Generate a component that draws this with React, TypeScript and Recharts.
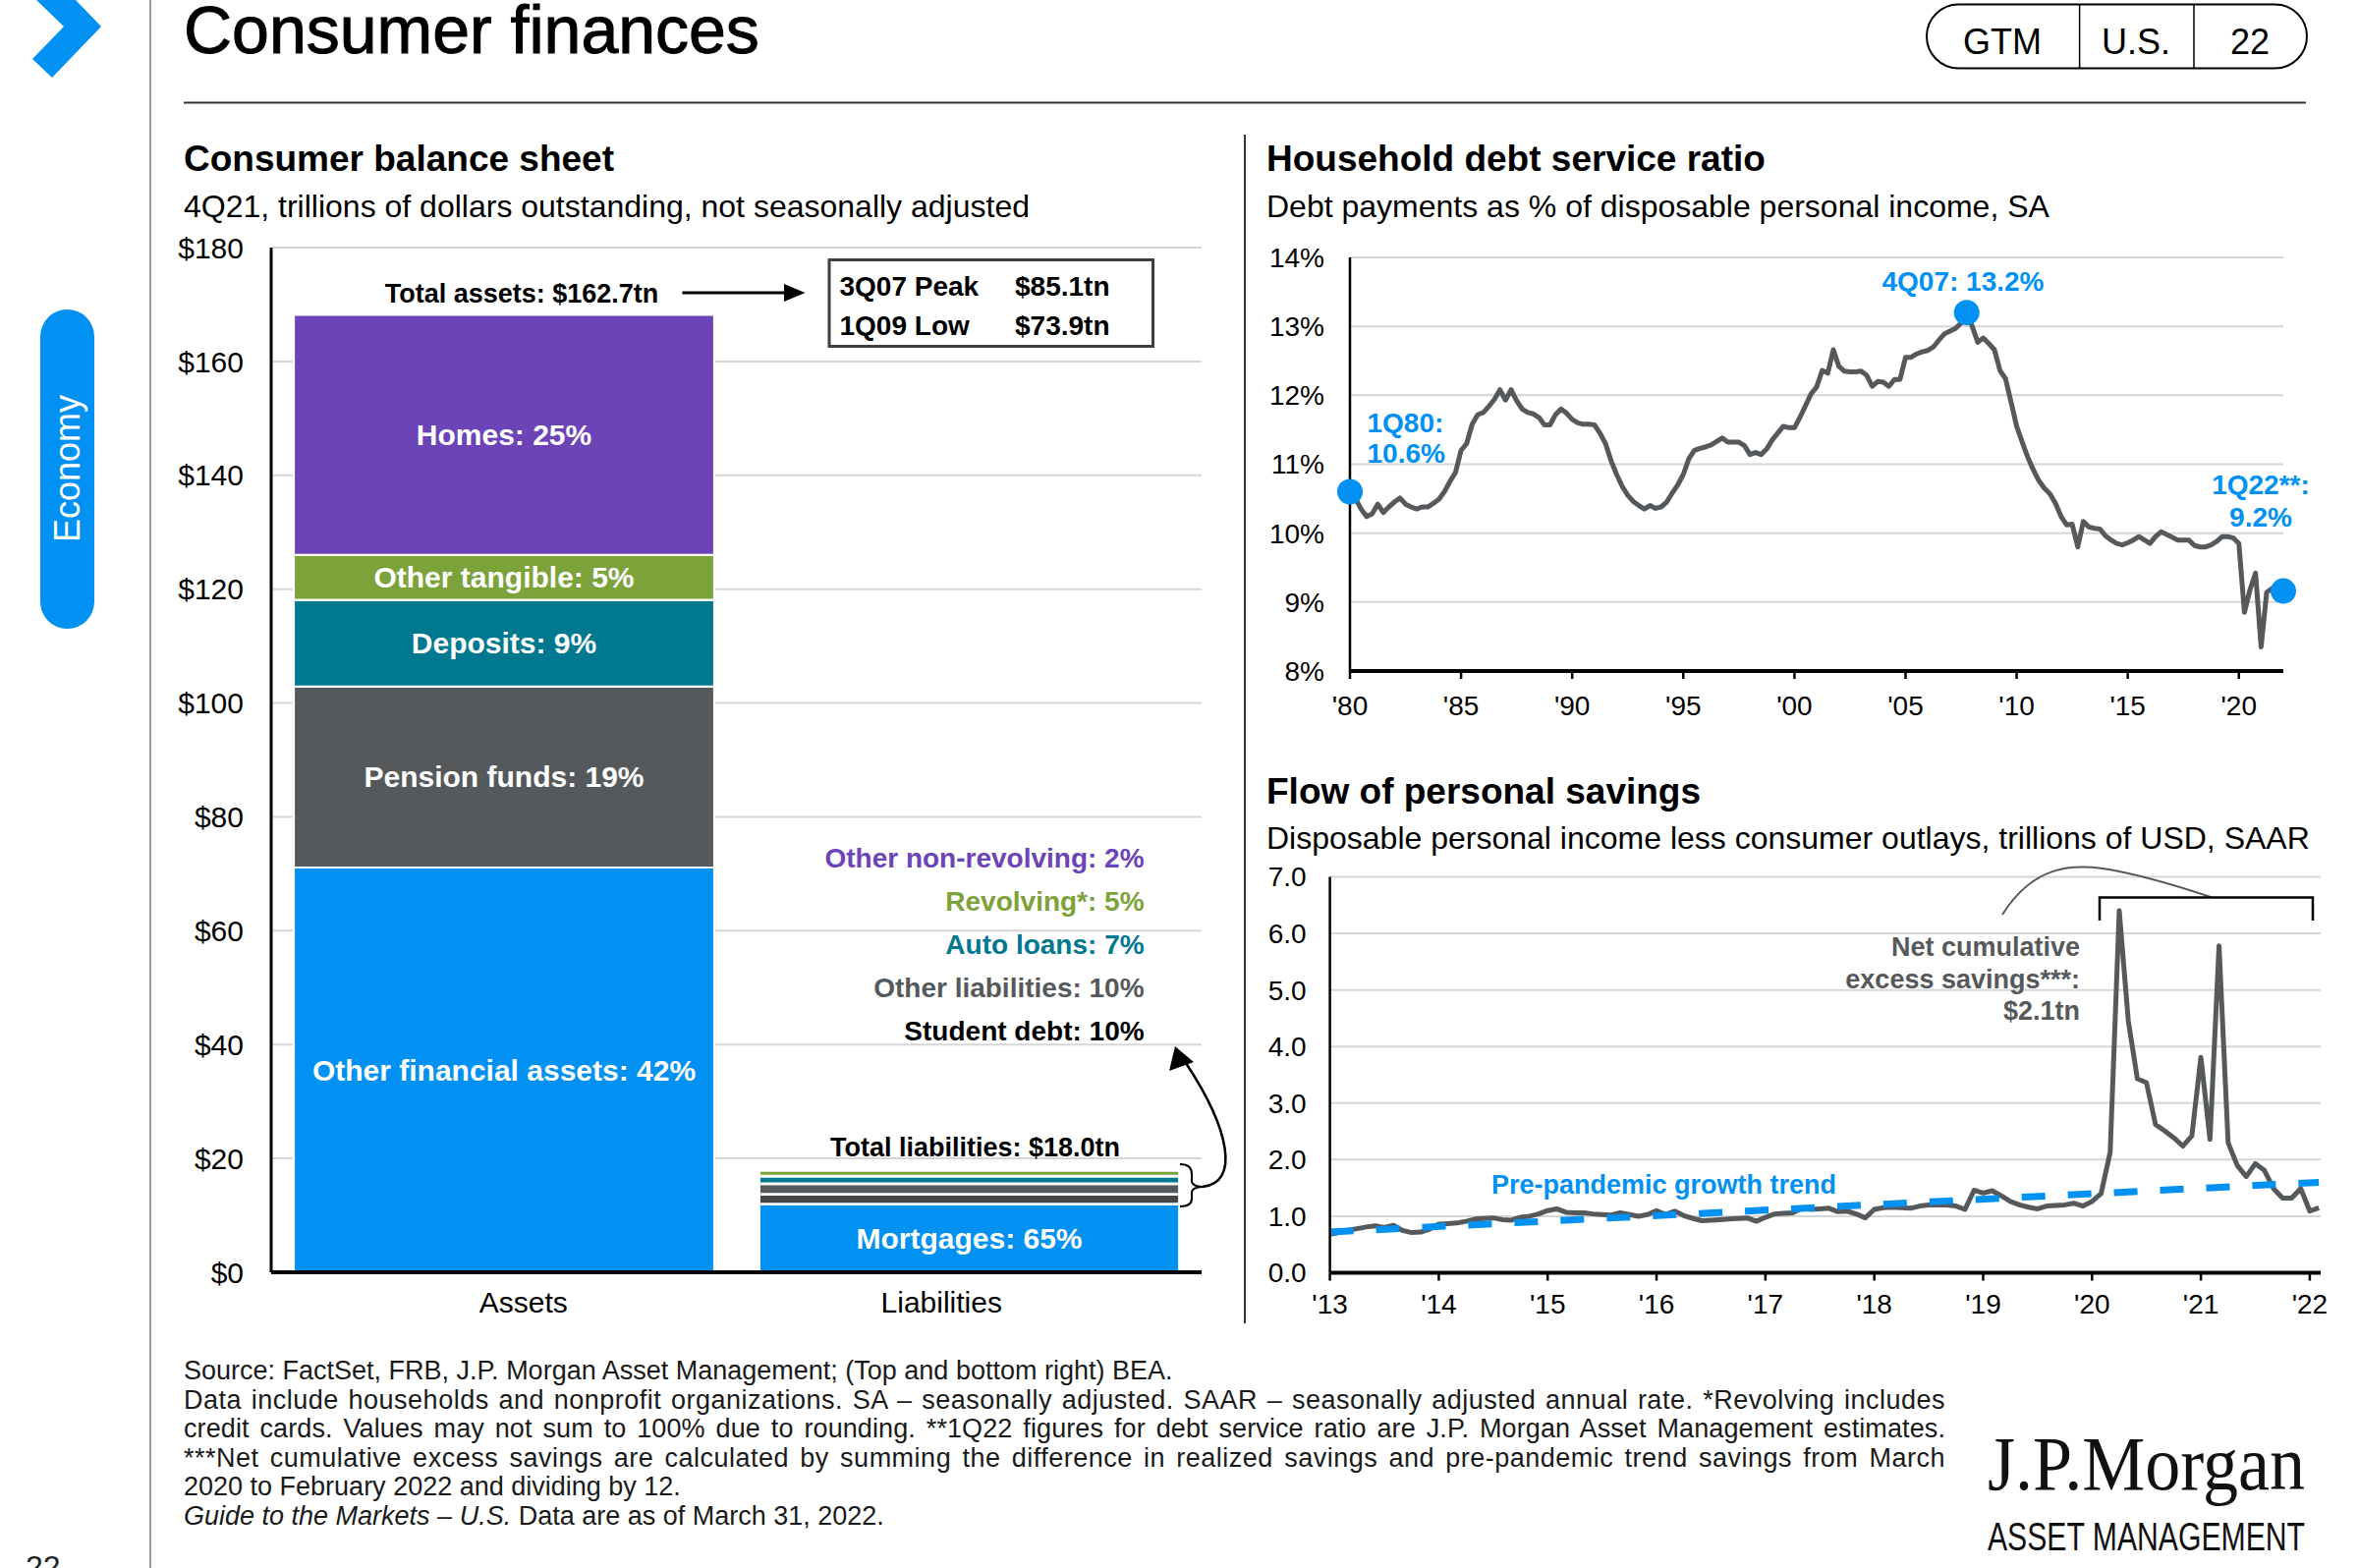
import React from "react";
import {
  BarChart,
  Bar,
  XAxis,
  YAxis,
  CartesianGrid,
  LabelList,
  LineChart,
  Line,
} from "recharts";

// ---- colours
const BLUE = "#0091F2";
const PURPLE = "#6C44B8";
const GREEN = "#7CA23A";
const TEAL = "#00788F";
const GRAY = "#56595C";
const DARK = "#454545";
const GRID = "#d6d6d6";
const FONT = '"Liberation Sans", Arial, sans-serif';

// ---- consumer balance sheet (4Q21, $tn)
const categories = ["Assets", "Liabilities"];
const categoryLabelShift = [20, -28]; // the labels sit a little off the bar centres
const assetNames = ["Other financial assets", "Pension funds", "Deposits", "Other tangible", "Homes"];
const assetValues = [71.1, 31.8, 15.2, 7.9, 42.2];
const assetShares = [42, 19, 9, 5, 25];
const assetColors = [BLUE, GRAY, TEAL, GREEN, PURPLE];

const liabilityNames = ["Mortgages", "Student debt", "Other liabilities", "Auto loans", "Revolving*", "Other non-revolving"];
const liabilityValues = [11.96, 1.73, 1.85, 1.34, 1.05, 0.25];
const liabilityShares = [65, 10, 10, 7, 5, 2];
const liabilityColors = [BLUE, DARK, GRAY, TEAL, GREEN, PURPLE];

const balanceTicks = [0, 20, 40, 60, 80, 100, 120, 140, 160, 180];

// ---- household debt service ratio, quarterly 1Q80 - 1Q22 (%)
const dsrStartYear = 1980;
const dsrValues = [
  10.6, 10.5, 10.35, 10.24,
  10.28, 10.42, 10.3, 10.38,
  10.45, 10.51, 10.42, 10.38,
  10.35, 10.38, 10.38, 10.43,
  10.49, 10.6, 10.75, 10.88,
  11.2, 11.3, 11.58, 11.72,
  11.75, 11.84, 11.94, 12.08,
  11.93, 12.08, 11.92, 11.8,
  11.75, 11.73, 11.68, 11.57,
  11.57, 11.72, 11.8, 11.74,
  11.65, 11.6, 11.58, 11.58,
  11.57, 11.45, 11.3, 11.05,
  10.85, 10.68, 10.55, 10.46,
  10.4, 10.35, 10.4, 10.36,
  10.38, 10.45, 10.58, 10.7,
  10.85, 11.08, 11.2, 11.23,
  11.25, 11.28, 11.33, 11.38,
  11.32, 11.32, 11.32, 11.27,
  11.14, 11.17, 11.14, 11.22,
  11.35, 11.45, 11.55, 11.53,
  11.53, 11.68, 11.85, 12.02,
  12.12, 12.36, 12.32, 12.66,
  12.42, 12.35, 12.34, 12.34,
  12.35, 12.29, 12.13, 12.2,
  12.19, 12.13, 12.23, 12.23,
  12.55, 12.55, 12.6, 12.63,
  12.65, 12.7, 12.8, 12.89,
  12.93, 12.97, 13.05, 13.2,
  13.0, 12.77, 12.83, 12.75,
  12.66, 12.36, 12.24, 11.9,
  11.55, 11.32, 11.1, 10.92,
  10.76, 10.65, 10.57, 10.43,
  10.24, 10.12, 10.13, 9.8,
  10.17, 10.09, 10.07, 10.06,
  9.96, 9.9, 9.85, 9.83,
  9.86, 9.9, 9.95, 9.9,
  9.85, 9.95, 10.02, 9.98,
  9.94, 9.9, 9.9, 9.9,
  9.82, 9.8, 9.8, 9.83,
  9.88, 9.95, 9.95, 9.93,
  9.85, 8.85, 9.18, 9.42,
  8.35, 9.14, 9.2, 9.25,
  9.16,
];
const dsrMarked = [0, 111, 168]; // 1Q80, 4Q07, 1Q22
const dsrTicks = [1980, 1985, 1990, 1995, 2000, 2005, 2010, 2015, 2020];
const dsrYTicks = [8, 9, 10, 11, 12, 13, 14];

// ---- flow of personal savings, monthly Jan 2013 - Feb 2022 ($tn SAAR)
const savingsStartYear = 2013;
const savingsValues = [
  0.68, 0.71, 0.75, 0.78, 0.81, 0.83, 0.8, 0.84, 0.75, 0.71, 0.72, 0.77,
  0.86, 0.87, 0.88, 0.91, 0.95, 0.96, 0.97, 0.94, 0.93, 0.98, 1.0, 1.04,
  1.1, 1.13, 1.07, 1.06, 1.06, 1.04, 1.03, 1.02, 1.06, 1.03, 1.0, 1.03,
  1.1, 1.03, 1.09, 1.01, 0.96, 0.92, 0.93, 0.94, 0.95, 0.96, 0.97, 0.91,
  0.98, 1.04, 1.05, 1.06, 1.14, 1.12, 1.13, 1.14, 1.08, 1.09, 1.04, 0.97,
  1.12, 1.15, 1.16, 1.15, 1.14, 1.18, 1.2, 1.2, 1.2, 1.18, 1.12, 1.46,
  1.41, 1.45, 1.36, 1.26, 1.2, 1.16, 1.13, 1.18, 1.19, 1.2, 1.23, 1.18,
  1.26, 1.4, 2.13, 6.4, 4.45, 3.43, 3.36, 2.62, 2.51, 2.39, 2.24, 2.42,
  3.81, 2.36, 5.78, 2.3, 1.9, 1.7, 1.93, 1.81, 1.49, 1.32, 1.32, 1.49,
  1.09, 1.15,
];
const trendYears = [2013, 2022.083];
const trendValues = [0.72, 1.6];
const savingsTicks = [2013, 2014, 2015, 2016, 2017, 2018, 2019, 2020, 2021, 2022];
const savingsYTicks = [0, 1, 2, 3, 4, 5, 6, 7];

const footnotes = [
  "Source: FactSet, FRB, J.P. Morgan Asset Management; (Top and bottom right) BEA.",
  "Data include households and nonprofit organizations. SA – seasonally adjusted. SAAR – seasonally adjusted annual rate. *Revolving includes",
  "credit cards. Values may not sum to 100% due to rounding. **1Q22 figures for debt service ratio are J.P. Morgan Asset Management estimates.",
  "***Net cumulative excess savings are calculated by summing the difference in realized savings and pre-pandemic trend savings from March",
  "2020 to February 2022 and dividing by 12.",
];

// ---- tables built from the arrays above
const balanceData = categories.map((name, ci) => {
  const row: Record<string, any> = { name };
  assetValues.forEach((v, i) => (row[`a${i}`] = ci === 0 ? v : 0));
  liabilityValues.forEach((v, i) => (row[`l${i}`] = ci === 1 ? v : 0));
  return row;
});
const dsrData = dsrValues.map((v, i) => ({ x: dsrStartYear + i / 4, v }));
const savingsData = savingsValues.map((v, i) => ({ x: savingsStartYear + i / 12, v }));
const trendData = trendYears.map((x, i) => ({ x, v: trendValues[i] }));

const yearLabel = (v: number) => "'" + String(v).slice(2);

const segmentLabel = (text: string) => (p: any) => {
  const { x, y, width, height, value } = p;
  if (!value) return null;
  return (
    <text
      x={Number(x) + Number(width) / 2}
      y={Number(y) + Number(height) / 2}
      textAnchor="middle"
      dominantBaseline="central"
      fill="#fff"
      fontWeight="bold"
      fontSize={30}
      fontFamily={FONT}
    >
      {text}
    </text>
  );
};

const CategoryTick = (p: any) => {
  const { x, y, payload, index } = p;
  return (
    <text
      x={x + (categoryLabelShift[index] || 0)}
      y={y + 31}
      textAnchor="middle"
      fontSize={30}
      fill="#000"
      fontFamily={FONT}
    >
      {payload.value}
    </text>
  );
};

const dsrDot = (p: any) => {
  const { cx, cy, index } = p;
  if (!dsrMarked.includes(index)) return <g key={`d${index}`} />;
  return <circle key={`d${index}`} cx={cx} cy={cy} r={13} fill={BLUE} />;
};

function BalanceSheet() {
  return (
    <div style={{ position: "absolute", left: 150, top: 220 }}>
      <BarChart
        width={1100}
        height={1140}
        data={balanceData}
        margin={{ top: 32, right: 27, bottom: 5, left: 46 }}
        barSize={428}
      >
        <CartesianGrid vertical={false} stroke={GRID} strokeWidth={2} />
        <XAxis
          dataKey="name"
          axisLine={{ stroke: "#000", strokeWidth: 4 }}
          tickLine={false}
          tickSize={0}
          tickMargin={10}
          height={60}
          tick={<CategoryTick />}
        />
        <YAxis
          domain={[0, 180]}
          ticks={balanceTicks}
          width={80}
          axisLine={{ stroke: "#000", strokeWidth: 3 }}
          tickLine={false}
          tickSize={0}
          tickMargin={28}
          tickFormatter={(v) => `$${v}`}
          tick={{ fontSize: 30, fill: "#000", fontFamily: FONT }}
        />
        {assetNames.map((n, i) => (
          <Bar
            key={`a${i}`}
            dataKey={`a${i}`}
            stackId="s"
            fill={assetColors[i]}
            stroke="#fff"
            strokeWidth={2.2}
            isAnimationActive={false}
          >
            <LabelList dataKey={`a${i}`} content={segmentLabel(`${n}: ${assetShares[i]}%`)} />
          </Bar>
        ))}
        {liabilityNames.map((n, i) => (
          <Bar
            key={`l${i}`}
            dataKey={`l${i}`}
            stackId="s"
            fill={liabilityColors[i]}
            stroke="#fff"
            strokeWidth={2.8}
            isAnimationActive={false}
          >
            {i === 0 && (
              <LabelList dataKey={`l${i}`} content={segmentLabel(`${n}: ${liabilityShares[i]}%`)} />
            )}
          </Bar>
        ))}
      </BarChart>
    </div>
  );
}

function DebtService() {
  return (
    <div style={{ position: "absolute", left: 1260, top: 230 }}>
      <LineChart
        width={1120}
        height={520}
        data={dsrData}
        margin={{ top: 32, right: 56, bottom: 7, left: 14 }}
      >
        <CartesianGrid vertical={false} stroke={GRID} strokeWidth={2} />
        <XAxis
          dataKey="x"
          type="number"
          domain={[1980, 2022]}
          ticks={dsrTicks}
          tickFormatter={yearLabel}
          axisLine={{ stroke: "#000", strokeWidth: 4 }}
          tickLine={{ stroke: "#000", strokeWidth: 2.5 }}
          tickSize={8}
          tickMargin={17}
          height={60}
          tick={{ fontSize: 28, fill: "#000", fontFamily: FONT }}
        />
        <YAxis
          domain={[8, 14]}
          ticks={dsrYTicks}
          width={100}
          axisLine={{ stroke: "#000", strokeWidth: 2.5 }}
          tickLine={false}
          tickSize={0}
          tickMargin={26}
          tickFormatter={(v) => `${v}%`}
          tick={{ fontSize: 28, fill: "#000", fontFamily: FONT }}
        />
        <Line
          dataKey="v"
          type="linear"
          stroke={GRAY}
          strokeWidth={5}
          strokeLinejoin="round"
          dot={dsrDot}
          activeDot={false}
          isAnimationActive={false}
        />
      </LineChart>
    </div>
  );
}

function PersonalSavings() {
  return (
    <div style={{ position: "absolute", left: 1260, top: 860 }}>
      <LineChart
        width={1130}
        height={500}
        margin={{ top: 32.5, right: 28, bottom: 4.5, left: 13.6 }}
      >
        <CartesianGrid vertical={false} stroke={GRID} strokeWidth={2} />
        <XAxis
          dataKey="x"
          type="number"
          domain={[2013, 2022.1]}
          ticks={savingsTicks}
          tickFormatter={yearLabel}
          axisLine={{ stroke: "#000", strokeWidth: 4 }}
          tickLine={{ stroke: "#000", strokeWidth: 2.5 }}
          tickSize={8}
          tickMargin={14}
          height={60}
          tick={{ fontSize: 28, fill: "#000", fontFamily: FONT }}
          allowDuplicatedCategory={false}
        />
        <YAxis
          domain={[0, 7]}
          ticks={savingsYTicks}
          width={80}
          axisLine={{ stroke: "#000", strokeWidth: 2.5 }}
          tickLine={false}
          tickSize={0}
          tickMargin={24}
          tickFormatter={(v) => Number(v).toFixed(1)}
          tick={{ fontSize: 28, fill: "#000", fontFamily: FONT }}
        />
        <Line
          data={savingsData}
          dataKey="v"
          type="linear"
          stroke={GRAY}
          strokeWidth={5}
          strokeLinejoin="round"
          dot={false}
          activeDot={false}
          isAnimationActive={false}
        />
        <Line
          data={trendData}
          dataKey="v"
          type="linear"
          stroke={BLUE}
          strokeWidth={7}
          strokeDasharray="24 23"
          dot={false}
          activeDot={false}
          isAnimationActive={false}
        />
      </LineChart>
    </div>
  );
}

function Footnotes() {
  const line = { height: 29.5, lineHeight: "29.5px", whiteSpace: "nowrap" as const };
  const justified = (ls: number) => ({
    ...line,
    textAlign: "justify" as const,
    textAlignLast: "justify" as const,
    whiteSpace: "normal" as const,
    letterSpacing: `${ls}px`,
  });
  return (
    <div
      style={{
        position: "absolute",
        left: 187,
        top: 1381,
        width: 1793,
        fontSize: 27,
        color: "#1a1a1a",
        fontFamily: FONT,
      }}
    >
      <div style={line}>{footnotes[0]}</div>
      <div style={justified(0.5)}>{footnotes[1]}</div>
      <div style={justified(0.1)}>{footnotes[2]}</div>
      <div style={justified(0.5)}>{footnotes[3]}</div>
      <div style={line}>{footnotes[4]}</div>
      <div style={line}>
        <i>Guide to the Markets – U.S.</i> Data are as of March 31, 2022.
      </div>
    </div>
  );
}

function Overlay() {
  const b = { fontWeight: "bold" as const };
  return (
    <svg
      width={2400}
      height={1596}
      style={{ position: "absolute", left: 0, top: 0, pointerEvents: "none" }}
      fontFamily={FONT}
    >
      {/* page furniture */}
      <polygon points="37,0 77,0 103,27 53,79 33,60 65,27" fill={BLUE} />
      <line x1={153} y1={0} x2={153} y2={1596} stroke="#7a7a7a" strokeWidth={1.5} />
      <text x={187} y={54} fontSize={68} fill="#000" stroke="#000" strokeWidth={1}>Consumer finances</text>
      <line x1={187} y1={104.5} x2={2347} y2={104.5} stroke="#333" strokeWidth={2} />
      <rect x={1961} y={4.5} width={387} height={65} rx={32.5} fill="#fff" stroke="#000" strokeWidth={2} />
      <line x1={2116.6} y1={4.5} x2={2116.6} y2={69.5} stroke="#000" strokeWidth={1.5} />
      <line x1={2233} y1={4.5} x2={2233} y2={69.5} stroke="#000" strokeWidth={1.5} />
      <text x={2038} y={54.5} fontSize={36} textAnchor="middle">GTM</text>
      <text x={2174} y={54.5} fontSize={36} textAnchor="middle">U.S.</text>
      <text x={2290} y={54.5} fontSize={36} textAnchor="middle">22</text>
      <rect x={41} y={315} width={55} height={325} rx={27.5} fill={BLUE} />
      <text
        x={68.5}
        y={477}
        fontSize={36}
        fill="#fff"
        textAnchor="middle"
        dominantBaseline="central"
        transform="rotate(-90 68.5 477)"
      >
        Economy
      </text>
      <text x={26} y={1606} fontSize={32} fill="#222">22</text>
      <line x1={1267} y1={137} x2={1267} y2={1347} stroke="#333" strokeWidth={2} />

      {/* panel titles */}
      <text x={187} y={174} fontSize={37} {...b}>Consumer balance sheet</text>
      <text x={187} y={221} fontSize={32}>4Q21, trillions of dollars outstanding, not seasonally adjusted</text>
      <text x={1289} y={174} fontSize={37} {...b}>Household debt service ratio</text>
      <text x={1289} y={221} fontSize={32}>Debt payments as % of disposable personal income, SA</text>
      <text x={1289} y={818} fontSize={37} {...b}>Flow of personal savings</text>
      <text x={1289} y={864} fontSize={32}>Disposable personal income less consumer outlays, trillions of USD, SAAR</text>

      {/* balance sheet annotations */}
      <text x={531} y={307.5} fontSize={27} textAnchor="middle" {...b}>Total assets: $162.7tn</text>
      <line x1={694.5} y1={298} x2={802} y2={298} stroke="#000" strokeWidth={3} />
      <polygon points="819.5,298 798,289 798,307" fill="#000" />
      <rect x={844} y={264.5} width={329.5} height={88} fill="#fff" stroke="#404040" strokeWidth={3} />
      <text x={854.5} y={301} fontSize={28} {...b}>3Q07 Peak</text>
      <text x={1033} y={301} fontSize={28} {...b}>$85.1tn</text>
      <text x={854.5} y={340.5} fontSize={28} {...b}>1Q09 Low</text>
      <text x={1033} y={340.5} fontSize={28} {...b}>$73.9tn</text>
      {[5, 4, 3, 2, 1].map((i, k) => (
        <text
          key={i}
          x={1164.6}
          y={883 + k * 44}
          fontSize={28}
          textAnchor="end"
          fill={i === 1 ? "#000" : liabilityColors[i]}
          {...b}
        >
          {`${liabilityNames[i]}: ${liabilityShares[i]}%`}
        </text>
      ))}
      <text x={992.5} y={1176.5} fontSize={27} textAnchor="middle" {...b}>Total liabilities: $18.0tn</text>
      <path
        d="M1201,1185 Q1213,1185 1213,1195 L1213,1202 Q1213,1208 1226,1208 Q1213,1208 1213,1214 L1213,1220 Q1213,1228 1201,1228"
        fill="none"
        stroke="#000"
        strokeWidth={2}
      />
      <path d="M1224,1208 C1262,1204 1252,1150 1207,1082" fill="none" stroke="#000" strokeWidth={2.5} />
      <polygon points="1196,1065 1190,1090 1215,1081" fill="#000" />

      {/* debt service annotations */}
      <text x={1391.5} y={440} fontSize={28} fill={BLUE} {...b}>1Q80:</text>
      <text x={1391.5} y={471} fontSize={28} fill={BLUE} {...b}>10.6%</text>
      <text x={1998} y={296} fontSize={28} fill={BLUE} textAnchor="middle" {...b}>4Q07: 13.2%</text>
      <text x={2301} y={503} fontSize={28} fill={BLUE} textAnchor="middle" {...b}>1Q22**:</text>
      <text x={2301} y={536} fontSize={28} fill={BLUE} textAnchor="middle" {...b}>9.2%</text>

      {/* savings annotations */}
      <path d="M2038,931 C2070,880 2110,880 2140,884 C2180,890 2220,903 2250,913" fill="none" stroke={GRAY} strokeWidth={2} />
      <path d="M2137,937 L2137,913.5 L2354,913.5 L2354,937" fill="none" stroke="#000" strokeWidth={2.5} />
      <text x={2117} y={973} fontSize={27} textAnchor="end" fill={GRAY} {...b}>Net cumulative</text>
      <text x={2117} y={1006} fontSize={27} textAnchor="end" fill={GRAY} {...b}>excess savings***:</text>
      <text x={2117} y={1038} fontSize={27} textAnchor="end" fill={GRAY} {...b}>$2.1tn</text>
      <text x={1518} y={1215} fontSize={27} fill={BLUE} {...b}>Pre-pandemic growth trend</text>

      {/* logo */}
      <text
        x={2023}
        y={1516}
        fontSize={78}
        fontFamily='"Liberation Serif", "DejaVu Serif", serif'
        textLength={323}
        lengthAdjust="spacingAndGlyphs"
        fill="#111"
      >
        J.P.Morgan
      </text>
      <text x={2023} y={1578} fontSize={40} textLength={323} lengthAdjust="spacingAndGlyphs" fill="#111">
        ASSET MANAGEMENT
      </text>
    </svg>
  );
}

export default function App() {
  return (
    <div
      style={{
        position: "absolute",
        left: 0,
        top: 0,
        width: 2400,
        height: 1596,
        background: "#fff",
        overflow: "hidden",
        fontFamily: FONT,
      }}
    >
      <BalanceSheet />
      <DebtService />
      <PersonalSavings />
      <Footnotes />
      <Overlay />
    </div>
  );
}
